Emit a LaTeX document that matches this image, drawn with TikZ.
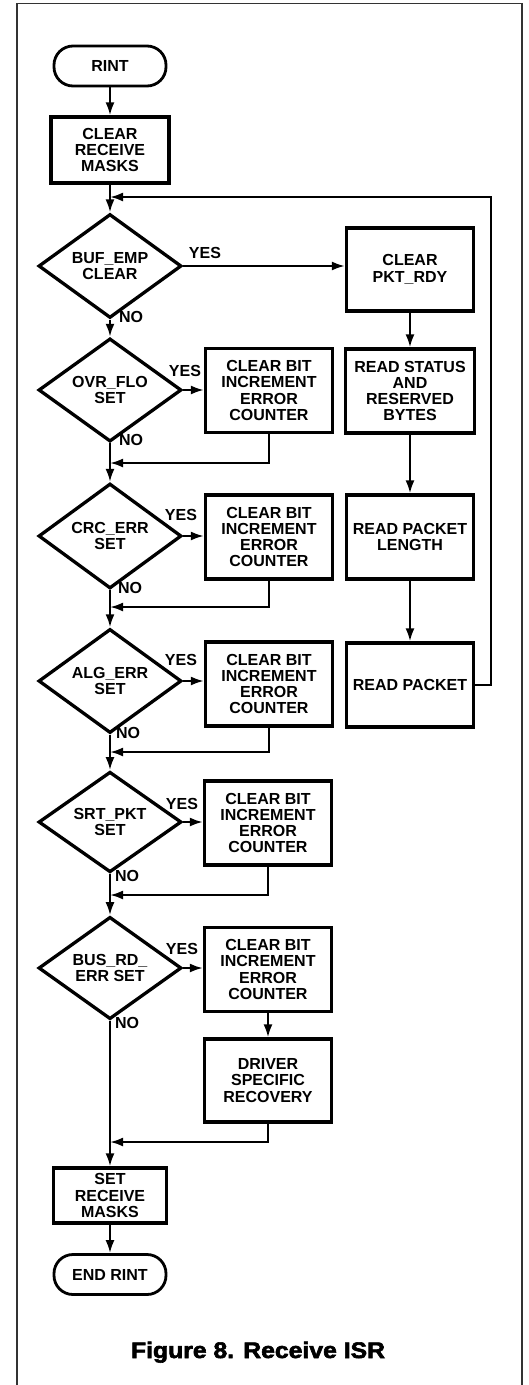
\documentclass[tikz,border=0pt]{standalone}
\usepackage{fontspec}
\usepackage{graphicx}
\setmainfont{Liberation Sans}
\newfontfamily\capfont{Liberation Sans}[UprightFont={* Bold},UprightFeatures={FakeBold=2.5}]
\usetikzlibrary{shapes.geometric,arrows.meta}
\newcommand\boxfont{\fontsize{16}{16.3}\selectfont\bfseries}
\begin{document}
\begin{tikzpicture}[x=1pt,y=-1pt,
  proc/.style={draw, line width=3.3pt, minimum width=127pt, minimum height=84pt, inner sep=0pt, align=center, font=\boxfont},
  dec/.style={diamond, draw, line width=3.3pt, minimum width=143pt, minimum height=85pt, inner sep=0pt, align=center, font=\boxfont},
  term/.style={draw, line width=2.8pt, rounded corners=19pt, minimum width=112pt, minimum height=40pt, inner sep=0pt, font=\boxfont},
  conn/.style={line width=2.2pt, -{Latex[length=13pt,width=9pt]}},
  lbl/.style={font=\boxfont, inner sep=0pt},
  frame/.style={line width=1.2pt, draw=black!80}]
\useasboundingbox (0,0) rectangle (529,1385);
\draw[frame] (17,1385) -- (17,3.5) -- (522,3.5) -- (522,1385);

\node[term] (rint) at (110,66) {RINT};
\node[proc, minimum width=118pt, minimum height=66pt] (crm) at (110,150) {CLEAR\\RECEIVE\\MASKS};
\node[dec] (d1) at (110,266) {BUF\_EMP\\CLEAR};
\node[proc, minimum height=83pt] (pkt) at (410,269.5) {CLEAR\\PKT\_RDY};
\node[proc, minimum width=129pt] (rs) at (410,391) {READ STATUS\\AND\\RESERVED\\BYTES};
\node[dec] (d2) at (110,390) {OVR\_FLO\\SET};
\node[proc] (b2) at (269,390.5) {CLEAR BIT\\INCREMENT\\ERROR\\COUNTER};
\node[dec] (d3) at (110,536) {CRC\_ERR\\SET};
\node[proc] (b3) at (269,537) {CLEAR BIT\\INCREMENT\\ERROR\\COUNTER};
\node[proc] (rpl) at (410,537) {READ PACKET\\LENGTH};
\node[dec] (d4) at (110,681) {ALG\_ERR\\SET};
\node[proc] (b4) at (269,684) {CLEAR BIT\\INCREMENT\\ERROR\\COUNTER};
\node[proc] (rp) at (410,685) {READ PACKET};
\node[dec] (d5) at (110,822) {SRT\_PKT\\SET};
\node[proc] (b5) at (268,823) {CLEAR BIT\\INCREMENT\\ERROR\\COUNTER};
\node[dec] (d6) at (110,968) {BUS\_RD\_\\ERR SET};
\node[proc] (b6) at (268,969.5) {CLEAR BIT\\INCREMENT\\ERROR\\COUNTER};
\node[proc, minimum height=83pt] (drv) at (268,1080.5) {DRIVER\\SPECIFIC\\RECOVERY};
\node[proc, minimum width=113pt, minimum height=55pt] (srm) at (110,1195.5) {SET\\RECEIVE\\MASKS};
\node[term] (end) at (110,1274.5) {END RINT};

% labels
\node[lbl] (y1) at (205,253) {YES};
\node[lbl] (y2) at (185,371) {YES};
\node[lbl] (y3) at (181,515) {YES};
\node[lbl] (y4) at (181,660) {YES};
\node[lbl] (y5) at (182,804) {YES};
\node[lbl] (y6) at (182,949) {YES};
\node[lbl] (n1) at (131,317) {NO};
\node[lbl] (n2) at (131,440) {NO};
\node[lbl] (n3) at (130,588) {NO};
\node[lbl] (n4) at (128,733) {NO};
\node[lbl] (n5) at (127,876) {NO};
\node[lbl] (n6) at (127,1023) {NO};

% merge points
\coordinate (fr) at (491,197);
\coordinate (fl) at (110,197);
\coordinate (m2) at (110,463);
\coordinate (m3) at (110,607);
\coordinate (m4) at (110,752);
\coordinate (m5) at (110,895);
\coordinate (m6) at (110,1142);

% main column
\draw[conn] (rint) -- (crm);
\draw[conn] (crm.south) -- (d1.north);
\draw[conn] (d1.south) -- (d2.north);
\draw[conn] (d2.south) -- (d3.north);
\draw[conn] (d3.south) -- (d4.north);
\draw[conn] (d4.south) -- (d5.north);
\draw[conn] (d5.south) -- (d6.north);
\draw[conn] (d6.south) -- (srm.north);
\draw[conn] (srm.south) -- (end.north);

% yes branches
\draw[conn] (d1.east) -- (d1.east -| pkt.west);
\draw[conn] (d2.east) -- (d2.east -| b2.west);
\draw[conn] (d3.east) -- (d3.east -| b3.west);
\draw[conn] (d4.east) -- (d4.east -| b4.west);
\draw[conn] (d5.east) -- (d5.east -| b5.west);
\draw[conn] (d6.east) -- (d6.east -| b6.west);

% returns
\draw[conn] (b2.south) |- (m2);
\draw[conn] (b3.south) |- (m3);
\draw[conn] (b4.south) |- (m4);
\draw[conn] (b5.south) |- (m5);
\draw[conn] (b6.south) -- (drv.north);
\draw[conn] (drv.south) |- (m6);

% right column
\draw[conn] (pkt.south) -- (rs.north);
\draw[conn] (rs.south) -- (rpl.north);
\draw[conn] (rpl.south) -- (rp.north);
\draw[conn] (rp.east) -| (fr) -- (fl);

% caption
\node[font=\capfont\fontsize{22.5}{22.5}\selectfont, anchor=base, inner sep=0pt] (cap) at (258,1358) {\scalebox{1.1}[1]{Figure 8. Receive ISR}};
\end{tikzpicture}
\end{document}
